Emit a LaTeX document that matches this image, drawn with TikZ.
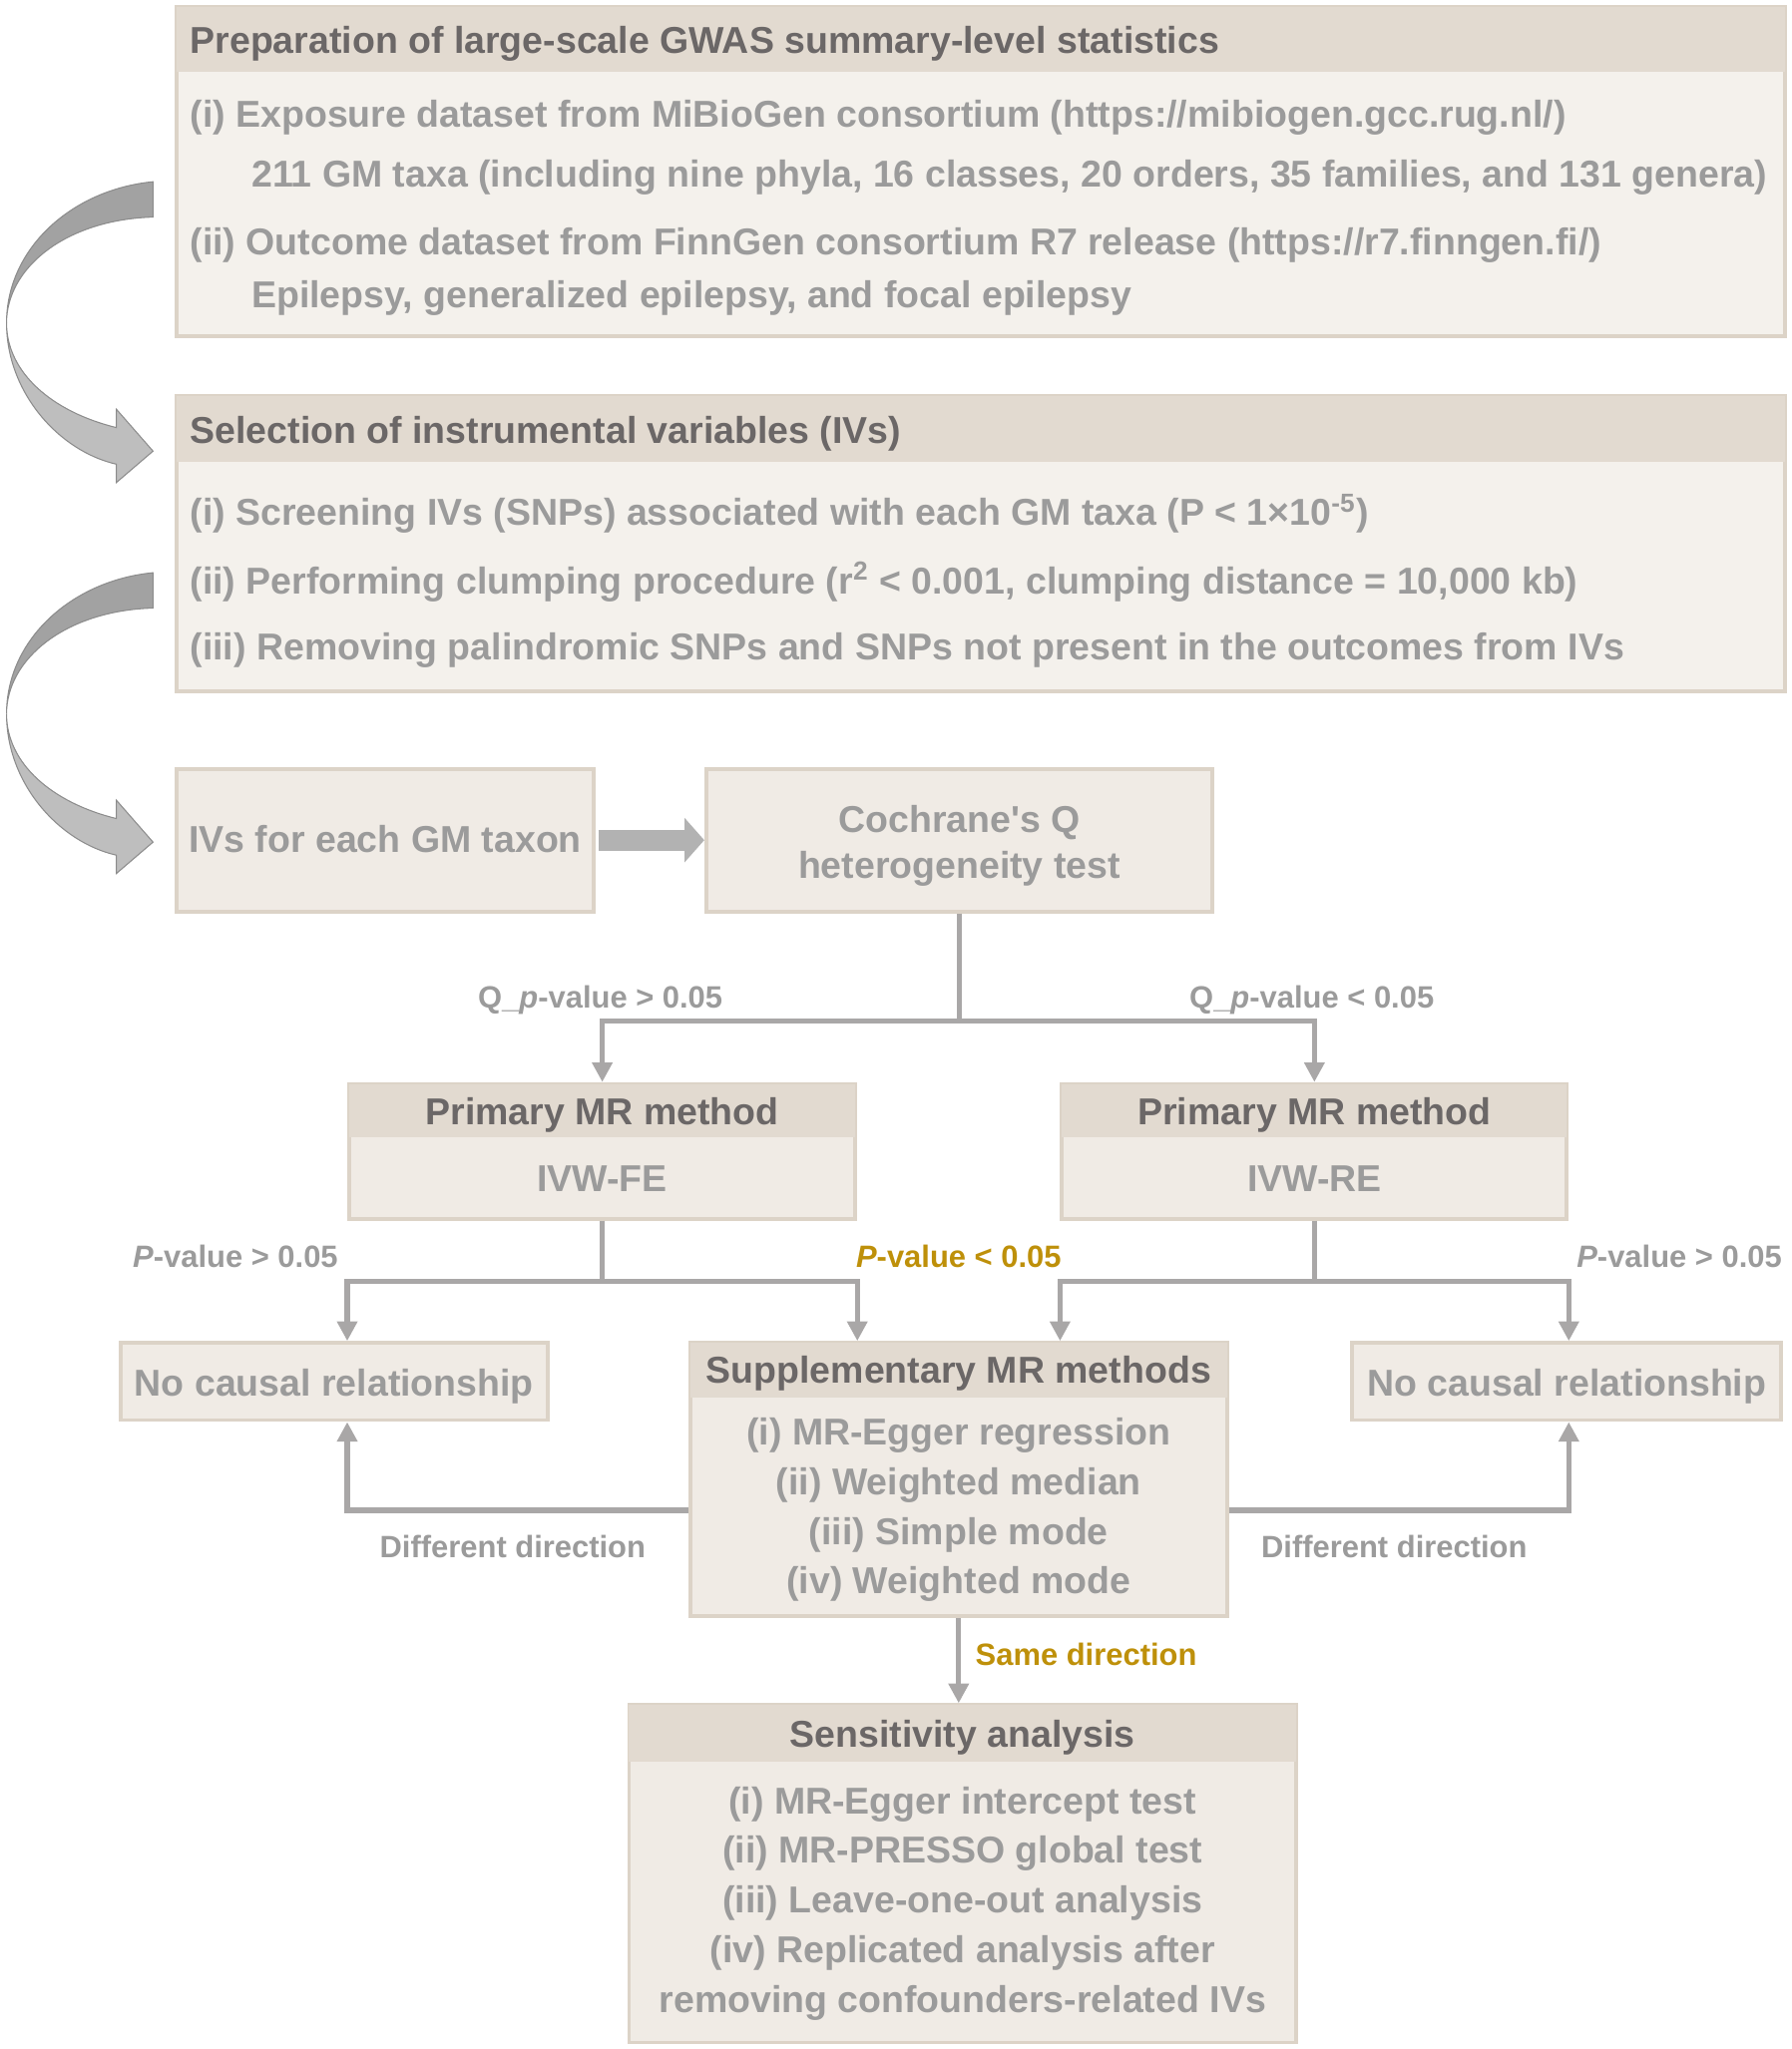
\documentclass[tikz,border=0pt]{standalone}
\usepackage{fontspec}
\setmainfont{Liberation Sans}
\usepackage{xcolor}
\usepackage{tikz}
\usetikzlibrary{fit}
\usetikzlibrary{arrows.meta}
\definecolor{boxline}{HTML}{DCD3C7}
\definecolor{headfill}{HTML}{E2DAD0}
\definecolor{bigfill}{HTML}{F4F1EC}
\definecolor{smallfill}{HTML}{F0EBE5}
\definecolor{headgray}{HTML}{6B6767}
\definecolor{bodygray}{HTML}{9B9B9B}
\definecolor{gold}{HTML}{BE900A}
\definecolor{linegray}{HTML}{A9A7A7}
\definecolor{fatgray}{HTML}{B2B2B2}
\definecolor{darkband}{HTML}{A2A2A2}
\definecolor{lightband}{HTML}{BEBEBE}
\definecolor{edgegray}{HTML}{8C8C8C}
\tikzset{ bigbox/.style = {draw=boxline, line width=1.5pt, fill=bigfill, inner sep=0pt} }
\tikzset{ smallbox/.style = {bigbox, fill=smallfill} }
\tikzset{ headbar/.style = {fill=headfill, inner sep=0pt} }
\tikzset{ hdtext/.style = {text=headgray, font=\bfseries\fontsize{14.3pt}{17pt}\selectfont, inner sep=0pt} }
\tikzset{ bodytext/.style = {hdtext, text=bodygray} }
\tikzset{ cond/.style = {text=bodygray, font=\bfseries\fontsize{11.8pt}{14pt}\selectfont, inner sep=0pt, anchor=base} }
\tikzset{ flow/.style = {draw=linegray, line width=2pt, -{Triangle[length=7.5pt,width=7.5pt]}} }
\tikzset{ fatarrow/.style = {draw=fatgray, line width=8pt, -{Triangle[length=7.5pt,width=16.5pt]}} }
\tikzset{ band/.style = {draw=edgegray, line width=0.4pt} }

\begin{document}
\begin{tikzpicture}[x=0.5pt, y=-0.5pt]
    \useasboundingbox (0,0) rectangle (1370,1567);
    % boxes
    \node[bigbox, fit={(135,5) (1365,257)}] (prep) {};
    \node[headbar, fit={(135,5) (1365,55)}] (prephd) {};
    \node[bigbox, fit={(135,303) (1365,529)}] (sel) {};
    \node[headbar, fit={(135,303) (1365,353)}] (selhd) {};
    \node[smallbox, fit={(135,588) (454,697)}] (ivs) {};
    \node[smallbox, fit={(540,588) (927,697)}] (coch) {};
    \node[smallbox, fit={(267,829) (654,932)}] (prmL) {};
    \node[headbar, fit={(267,829) (654,870)}] (prmLhd) {};
    \node[smallbox, fit={(812,829) (1198,932)}] (prmR) {};
    \node[headbar, fit={(812,829) (1198,870)}] (prmRhd) {};
    \node[smallbox, fit={(92,1027) (419,1086)}] (nocL) {};
    \node[smallbox, fit={(1034,1027) (1362,1086)}] (nocR) {};
    \node[smallbox, fit={(528,1027) (938,1236)}] (supp) {};
    \node[headbar, fit={(528,1027) (938,1069)}] (supphd) {};
    \node[smallbox, fit={(481,1304) (991,1562)}] (sens) {};
    \node[headbar, fit={(481,1304) (991,1347)}] (senshd) {};

    % texts
    \node[hdtext, anchor=base west] (prept) at (145,41) {Preparation of large-scale GWAS summary-level statistics};
    \node[bodytext, anchor=base west] (prep1) at (145,97) {(i) Exposure dataset from MiBioGen consortium (https://mibiogen.gcc.rug.nl/)};
    \node[bodytext, anchor=base west] (prep2) at (192,143) {211 GM taxa (including nine phyla, 16 classes, 20 orders, 35 families, and 131 genera)};
    \node[bodytext, anchor=base west] (prep3) at (145,195) {(ii) Outcome dataset from FinnGen consortium R7 release (https://r7.finngen.fi/)};
    \node[bodytext, anchor=base west] (prep4) at (192,235) {Epilepsy, generalized epilepsy, and focal epilepsy};
    \node[hdtext, anchor=base west] (selt) at (145,339) {Selection of instrumental variables (IVs)};
    \node[bodytext, anchor=base west] (sel1) at (145,402) {(i) Screening IVs (SNPs) associated with each GM taxa (P < 1×10\textsuperscript{-5})};
    \node[bodytext, anchor=base west] (sel2) at (145,454) {(ii) Performing clumping procedure (r\textsuperscript{2} < 0.001, clumping distance = 10,000 kb)};
    \node[bodytext, anchor=base west] (sel3) at (145,505) {(iii) Removing palindromic SNPs and SNPs not present in the outcomes from IVs};
    \node[bodytext, anchor=base] (ivst) at (294.5,652) {IVs for each GM taxon};
    \node[bodytext, anchor=base] (coch1) at (733.5,637) {Cochrane\textquotesingle s Q};
    \node[bodytext, anchor=base] (coch2) at (733.5,672) {heterogeneity test};
    \node[hdtext, anchor=base] (prmLt) at (460.5,860) {Primary MR method};
    \node[bodytext, anchor=base] (prmLb) at (460.5,911) {IVW-FE};
    \node[hdtext, anchor=base] (prmRt) at (1005,860) {Primary MR method};
    \node[bodytext, anchor=base] (prmRb) at (1005,911) {IVW-RE};
    \node[bodytext, anchor=base] (nocLt) at (255.5,1068) {No causal relationship};
    \node[bodytext, anchor=base] (nocRt) at (1198,1068) {No causal relationship};
    \node[hdtext, anchor=base] (suppt) at (733,1058) {Supplementary MR methods};
    \foreach \t [count=\i] in {(i) MR-Egger regression, (ii) Weighted median, (iii) Simple mode, (iv) Weighted mode}
        \node[bodytext, anchor=base] (supp\i) at (733,1067+38*\i) {\t};
    \node[hdtext, anchor=base] (senst) at (736,1336) {Sensitivity analysis};
    \foreach \t [count=\i] in {(i) MR-Egger intercept test, (ii) MR-PRESSO global test, (iii) Leave-one-out analysis, (iv) Replicated analysis after, removing confounders-related IVs}
        \node[bodytext, anchor=base] (sens\i) at (736,1349+38*\i) {\t};

    % conditions
    \node[cond] (qlow) at (459,771) {Q\_\textit{p}-value > 0.05};
    \node[cond] (qhigh) at (1003,771) {Q\_\textit{p}-value < 0.05};
    \node[cond] (pL) at (180,969) {\textit{P}-value > 0.05};
    \node[cond, text=gold] (pmid) at (733,969) {\textit{P}-value < 0.05};
    \node[cond] (pR) at (1284,969) {\textit{P}-value > 0.05};
    \node[cond] (diffL) at (392,1191) {Different direction};
    \node[cond] (diffR) at (1066,1191) {Different direction};
    \node[cond, text=gold] (same) at (830.5,1274) {Same direction};

    % connectors
    \foreach \dy in {0,299} {
        \draw[band, fill=darkband, shift={(0,\dy)}] (117,139) .. controls (55,145) and (5,190) .. (5,247)
            .. controls (5,205) and (50,168) .. (117,166) -- cycle;
        \draw[band, fill=lightband, shift={(0,\dy)}] (5,247) .. controls (5,300) and (45,345) .. (89,355)
            -- (89,369) -- (117,345) -- (89,313) -- (89,327) .. controls (40,315) and (5,285) .. (5,247) -- cycle;
    }
    \draw[fatarrow] ([xshift=1pt]ivs.east) -- (coch.west);
    \draw[flow] (coch.south) -- (coch.south |- 0,781) -| (prmL.north);
    \draw[flow] (coch.south |- 0,781) -| (prmR.north);
    \draw[flow] (prmL.south) -- (prmL.south |- 0,980) -| (prmL.west |- nocL.north);
    \draw[flow] (prmL.south |- 0,980) -| (prmL.east |- supp.north);
    \draw[flow] (prmR.south) -- (prmR.south |- 0,980) -| (prmR.west |- supp.north);
    \draw[flow] (prmR.south |- 0,980) -| (prmR.east |- nocR.north);
    \draw[flow] (supp.west |- 0,1155) -| (prmL.west |- nocL.south);
    \draw[flow] (supp.east |- 0,1155) -| (prmR.east |- nocR.south);
    \draw[flow] (supp.south) -- (supp.south |- sens.north);
\end{tikzpicture}
\end{document}
